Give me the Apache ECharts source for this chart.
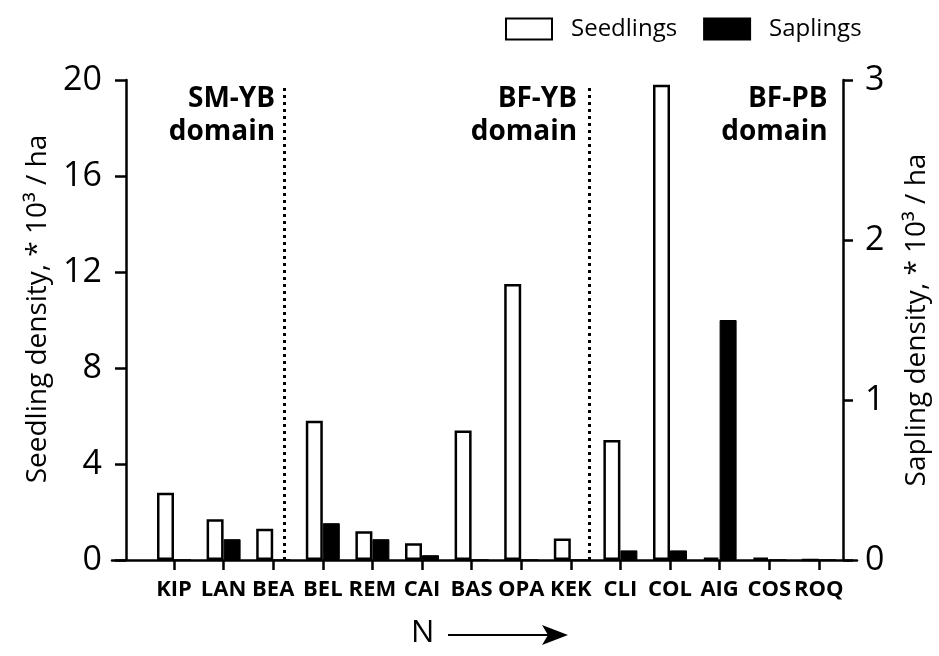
<!DOCTYPE html>
<html>
<head>
<meta charset="utf-8">
<script src="https://cdn.jsdelivr.net/npm/echarts@6/dist/echarts.min.js"></script>
<style>
  html, body { margin: 0; padding: 0; background: #fff; }
  #chart { width: 939px; height: 656px; }
</style>
</head>
<body>
<div id="chart"></div>
<script>
// Sites ordered south to north
const sites = ['KIP', 'LAN', 'BEA', 'BEL', 'REM', 'CAI', 'BAS', 'OPA', 'KEK', 'CLI', 'COL', 'AIG', 'COS', 'ROQ'];
// Densities, * 10^3 per ha
const seedlings = [2.8, 1.7, 1.3, 5.8, 1.2, 0.7, 5.4, 11.5, 0.9, 5.0, 19.8, 0.1, 0.1, 0];
const saplings = [0, 0.13, 0, 0.23, 0.13, 0.03, 0, 0, 0, 0.06, 0.06, 1.5, 0, 0];
// Axis ticks
const seedlingTicks = [0, 4, 8, 12, 16, 20];
const saplingTicks = [0, 1, 2, 3];
// Boundaries between bioclimatic domains (in site-index units) and domain names
const domainBreaks = [2.22, 8.37];
const domainNames = ['SM-YB\ndomain', 'BF-YB\ndomain', 'BF-PB\ndomain'];

const FONT = '"Open Sans", "Noto Sans", sans-serif';
const INK = '#000';
const siteIdx = sites.map((s, i) => i);

const chart = echarts.init(document.getElementById('chart'), null, { renderer: 'canvas' });

const option = {
  animation: false,
  backgroundColor: '#fff',
  textStyle: { fontFamily: FONT, color: INK },
  grid: { left: 112, right: 82, top: 80, bottom: 96, containLabel: false },
  legend: {
    left: 500, top: 12,
    icon: 'rect',
    itemWidth: 46, itemHeight: 21, itemGap: 26,
    textStyle: { fontFamily: FONT, fontSize: 24, color: INK, padding: [0, 0, 0, 14] },
    data: ['Seedlings', 'Saplings']
  },
  xAxis: {
    type: 'value',
    min: -1.25, max: 13.77,
    splitLine: { show: false },
    axisLine: { show: true, onZero: false, lineStyle: { color: INK, width: 2.5 } },
    axisTick: { show: true, customValues: siteIdx, length: 10, lineStyle: { color: INK, width: 2.5 } },
    axisLabel: {
      customValues: siteIdx,
      formatter: v => sites[Math.round(v)],
      fontFamily: FONT, fontWeight: 'bold', fontSize: 22, color: INK, margin: 19
    }
  },
  yAxis: [
    {
      type: 'value', position: 'left', offset: -14,
      min: seedlingTicks[0], max: seedlingTicks[seedlingTicks.length - 1], interval: 4,
      splitLine: { show: false },
      axisLine: { show: true, onZero: false, lineStyle: { color: INK, width: 2.5 } },
      axisTick: { show: true, length: 11, lineStyle: { color: INK, width: 2.5 } },
      axisLabel: { fontFamily: FONT, fontSize: 34, color: INK, margin: 24 },
      name: 'Seedling density, * 10³ / ha',
      nameLocation: 'middle', nameGap: 74, nameRotate: 90,
      nameTextStyle: { fontFamily: FONT, fontSize: 28, color: INK, padding: [0, 0, 0, 22] }
    },
    {
      type: 'value', position: 'right', offset: -14,
      min: saplingTicks[0], max: saplingTicks[saplingTicks.length - 1], interval: 1,
      splitLine: { show: false },
      axisLine: { show: true, onZero: false, lineStyle: { color: INK, width: 2.5 } },
      axisTick: { show: true, length: 10, lineStyle: { color: INK, width: 2.5 } },
      axisLabel: { fontFamily: FONT, fontSize: 34, color: INK, margin: 22 },
      name: 'Sapling density, * 10³ / ha',
      nameLocation: 'middle', nameGap: 60, nameRotate: 90,
      nameTextStyle: { fontFamily: FONT, fontSize: 28, color: INK }
    }
  ],
  series: [
    {
      name: 'Seedlings', type: 'bar', xAxisIndex: 0, yAxisIndex: 0,
      data: siteIdx.map(i => [i, seedlings[i]]),
      barWidth: 17, barGap: '0%',
      itemStyle: { color: '#fff', borderColor: INK, borderWidth: 2.5 }
    },
    {
      name: 'Saplings', type: 'bar', xAxisIndex: 0, yAxisIndex: 1,
      data: siteIdx.map(i => [i, saplings[i]]),
      barWidth: 17, barGap: '0%',
      itemStyle: { color: INK, borderColor: INK, borderWidth: 1 }
    },
    {
      // dotted domain boundaries, carried by an empty line series so they are not shifted like bars
      name: 'domains', type: 'line', xAxisIndex: 0, yAxisIndex: 0,
      data: [], silent: true,
      markLine: {
        silent: true, symbol: 'none',
        label: { show: false },
        lineStyle: { color: INK, width: 3, type: [3, 4] },
        data: domainBreaks.map(b => [{ coord: [b, 0] }, { coord: [b, 19.8] }])
      }
    }
  ]
};

chart.setOption(option);

// Domain captions sit just left of each boundary (the last one left of the right axis)
const px = v => chart.convertToPixel({ xAxisIndex: 0 }, v);
const captionRight = [px(domainBreaks[0]) - 9, px(domainBreaks[1]) - 12, px(13.5) - 16];
const graphics = domainNames.map((t, i) => ({
  type: 'text',
  style: {
    text: t, x: captionRight[i], y: 83,
    fill: INK, fontFamily: FONT, fontWeight: 'bold', fontSize: 28,
    lineHeight: 33, align: 'right', verticalAlign: 'top'
  }
}));

// "N" with an arrow pointing north along the site sequence
graphics.push(
  { type: 'text', style: { text: 'N', x: 411, y: 618, fill: INK, fontFamily: FONT, fontSize: 31, verticalAlign: 'top' } },
  { type: 'line', shape: { x1: 448, y1: 635, x2: 548, y2: 635 }, style: { stroke: INK, lineWidth: 2 } },
  { type: 'polygon', shape: { points: [[542, 625], [568, 635], [542, 645], [548, 635]] }, style: { fill: INK } }
);

chart.setOption({ graphic: graphics });
</script>
</body>
</html>
